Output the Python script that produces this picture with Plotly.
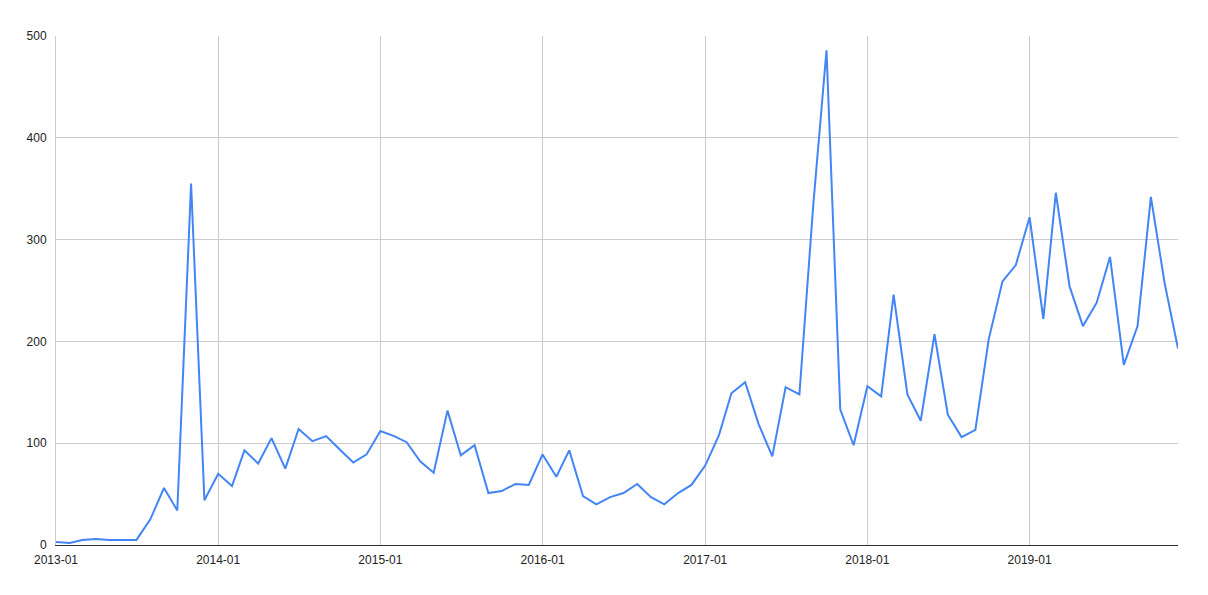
import plotly.graph_objects as go
import pandas as pd

months = pd.date_range("2013-01-01", "2019-12-01", freq="MS")

values_2013 = [3, 2, 5, 6, 5, 5, 5, 25, 56, 34, 355, 44]
values_2014 = [70, 58, 93, 80, 105, 75, 114, 102, 107, 94, 81, 89]
values_2015 = [112, 107, 101, 82, 71, 132, 88, 98, 51, 53, 60, 59]
values_2016 = [89, 67, 93, 48, 40, 47, 51, 60, 47, 40, 51, 59]
values_2017 = [78, 108, 149, 160, 119, 87, 155, 148, 333, 486, 133, 98]
values_2018 = [156, 146, 246, 148, 122, 207, 128, 106, 113, 202, 259, 275]
values_2019 = [322, 222, 346, 254, 215, 238, 283, 177, 215, 342, 257, 193]

values = (values_2013 + values_2014 + values_2015 + values_2016
          + values_2017 + values_2018 + values_2019)

tick_dates = ["2013-01-01", "2014-01-01", "2015-01-01", "2016-01-01",
              "2017-01-01", "2018-01-01", "2019-01-01"]
tick_labels = ["2013-01", "2014-01", "2015-01", "2016-01",
               "2017-01", "2018-01", "2019-01"]
y_ticks = [0, 100, 200, 300, 400, 500]

fig = go.Figure()
fig.add_trace(go.Scatter(
    x=months, y=values, mode="lines",
    line=dict(color="#4285F4", width=2),
    showlegend=False,
))

fig.update_layout(
    width=1208, height=595,
    margin=dict(l=56, r=30, t=36, b=50),
    paper_bgcolor="white", plot_bgcolor="white",
    font=dict(family="Liberation Sans, Arial, sans-serif", size=12, color="#222222"),
)
fig.update_xaxes(
    range=["2013-01-01", "2019-12-01"],
    tickvals=tick_dates, ticktext=tick_labels,
    showgrid=True, gridcolor="#cccccc", gridwidth=1,
    showline=True, linecolor="#333333", linewidth=1,
    ticks="", zeroline=False,
    ticklabelstandoff=4,
)
fig.update_yaxes(
    range=[0, 500], tickvals=y_ticks,
    showgrid=True, gridcolor="#cccccc", gridwidth=1,
    showline=True, linecolor="#cccccc", linewidth=1,
    zeroline=False, ticks="",
    ticklabelstandoff=6,
)

fig.write_html("out.html", config={"displayModeBar": False},
               post_script="document.body.style.margin='0';")
